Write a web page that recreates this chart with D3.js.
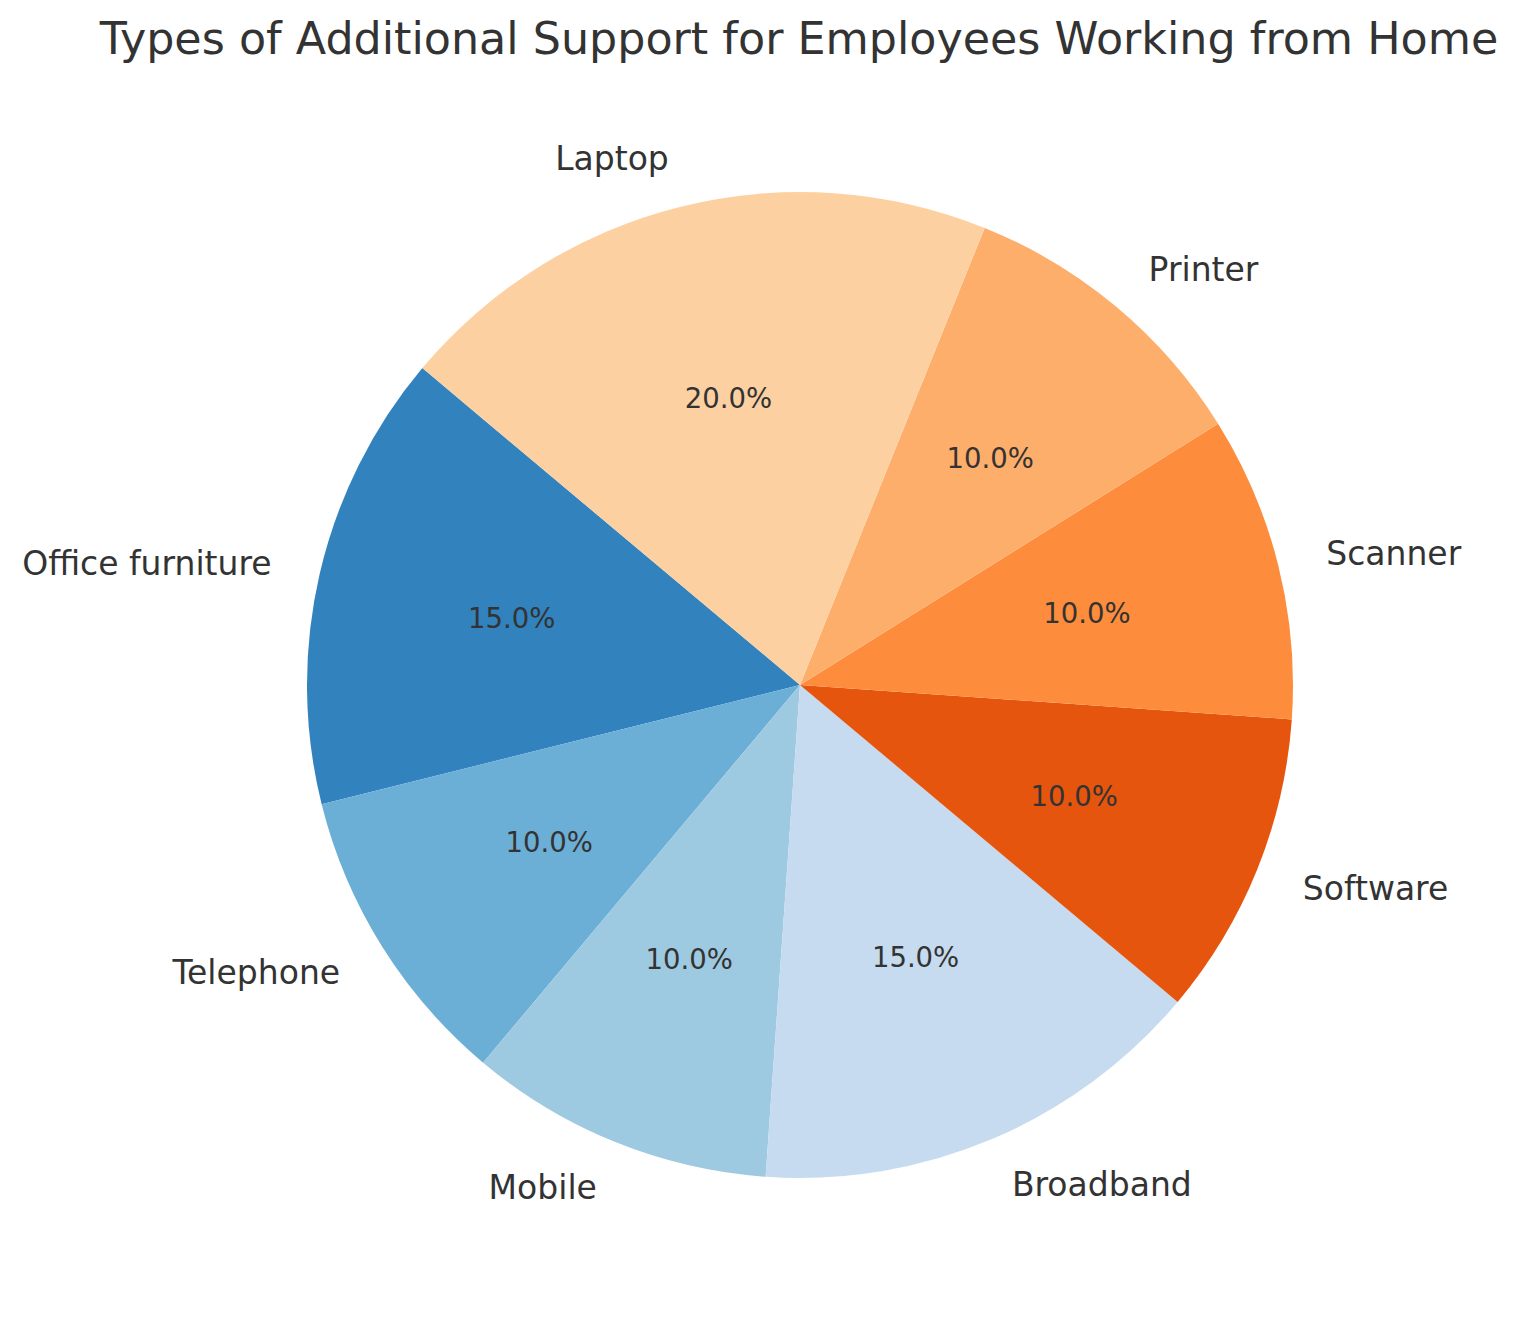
<!DOCTYPE html>
<html>
<head>
<meta charset="utf-8">
<script src="https://cdn.jsdelivr.net/npm/d3@7"></script>
<style>
  html, body { margin: 0; padding: 0; background: #ffffff; }
  svg { display: block; }
  text { font-family: "DejaVu Sans", sans-serif; fill: #333333; }
</style>
</head>
<body>
<svg id="chart" width="1521" height="1322"></svg>
<script>
const categories = ["Office furniture", "Telephone", "Mobile", "Broadband", "Software", "Scanner", "Printer", "Laptop"];
const values = [15, 10, 10, 15, 10, 10, 10, 20];
const colors = ["#3182bd", "#6baed6", "#9ecae1", "#c6dbef", "#e6550d", "#fd8d3c", "#fdae6b", "#fdd0a2"];
const title = "Types of Additional Support for Employees Working from Home";

const W = 1521, H = 1322;
const cx = 800, cy = 685, R = 493;
const startDeg = 140; // matplotlib startangle, counter-clockwise

const svg = d3.select("#chart");
svg.append("text")
  .attr("x", 799).attr("y", 54)
  .attr("text-anchor", "middle")
  .style("font-size", "44.4px")
  .text(title);

const total = d3.sum(values);
const startRad = (90 - startDeg) * Math.PI / 180;
const pie = d3.pie().sort(null).value(d => d.v)
  .startAngle(startRad).endAngle(startRad - 2 * Math.PI);
const data = categories.map((c, i) => ({ c, v: values[i], col: colors[i] }));
const arcs = pie(data);
const arc = d3.arc().innerRadius(0).outerRadius(R);

const g = svg.append("g").attr("transform", `translate(${cx},${cy})`);
g.selectAll("path").data(arcs).enter().append("path")
  .attr("d", arc)
  .attr("fill", d => d.data.col);

arcs.forEach(d => {
  const mid = (d.startAngle + d.endAngle) / 2;
  const sx = Math.sin(mid), sy = -Math.cos(mid);
  const lx = 1.1 * R * sx, ly = 1.1 * R * sy;
  g.append("text")
    .attr("x", lx).attr("y", ly)
    .attr("text-anchor", lx > 0 ? "start" : "end")
    .attr("dominant-baseline", "central")
    .style("font-size", "33px")
    .text(d.data.c);
  g.append("text")
    .attr("x", 0.6 * R * sx).attr("y", 0.6 * R * sy)
    .attr("text-anchor", "middle")
    .attr("dominant-baseline", "central")
    .style("font-size", "27.5px")
    .text((d.data.v / total * 100).toFixed(1) + "%");
});
</script>
</body>
</html>
